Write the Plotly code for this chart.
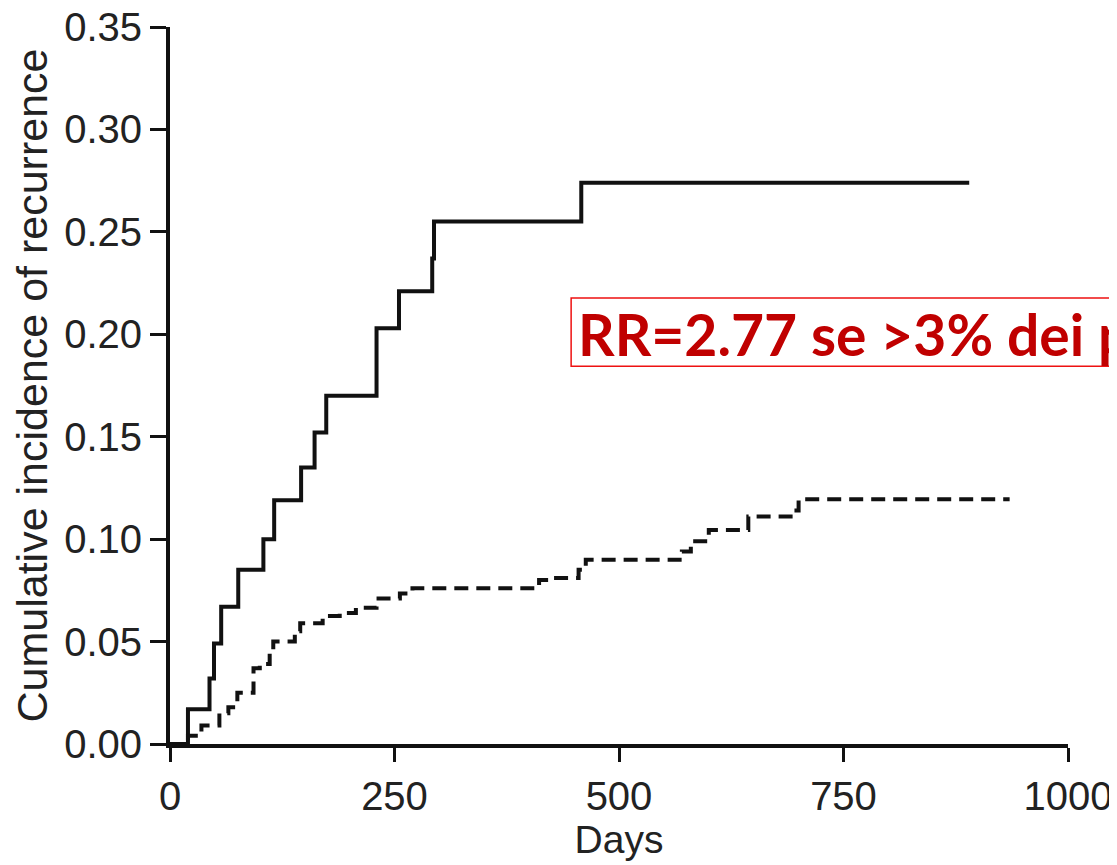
import plotly.graph_objects as go

# Data (days, cumulative incidence)
solid_days = [0, 20, 44, 49, 57, 76, 104, 116, 146, 161, 174, 230, 255, 292, 294, 458, 890]
solid_vals = [0, 0.017, 0.032, 0.049, 0.067, 0.085, 0.100, 0.119, 0.135, 0.152, 0.170,
              0.203, 0.221, 0.237, 0.255, 0.274, 0.274]

dash_days = [0, 20, 35, 55, 65, 75, 93, 100, 111, 115, 139, 145, 170, 189, 207, 230, 256,
             270, 411, 426, 455, 463, 570, 580, 600, 644, 694, 700, 935]
dash_vals = [0, 0.004, 0.009, 0.015, 0.018, 0.025, 0.037, 0.039, 0.045, 0.050, 0.055, 0.059,
             0.0625, 0.064, 0.0665, 0.071, 0.0735, 0.076, 0.080, 0.081, 0.085, 0.090, 0.094,
             0.099, 0.1045, 0.111, 0.114, 0.1195, 0.1195]

x_ticks = [0, 250, 500, 750, 1000]
y_ticks = [0, 0.05, 0.10, 0.15, 0.20, 0.25, 0.30, 0.35]

x_title = "Days"
y_title = "Cumulative incidence of recurrence"
note_text = "RR=2.77 se >3% dei p"

fig = go.Figure()
fig.add_trace(go.Scatter(x=solid_days, y=solid_vals, mode="lines", line_shape="hv",
                         line=dict(color="#111111", width=4), showlegend=False))
fig.add_trace(go.Scatter(x=dash_days, y=dash_vals, mode="lines", line_shape="hv",
                         line=dict(color="#111111", width=4, dash="14px,8px"), showlegend=False))

fam = "Liberation Sans, Arial, sans-serif"
fig.update_layout(
    width=1109, height=857,
    margin=dict(l=162, r=49, t=19, b=121),
    paper_bgcolor="white", plot_bgcolor="white",
    xaxis=dict(range=[0, 1000], tickvals=x_ticks, ticktext=[str(v) for v in x_ticks],
               showline=True, linecolor="#111111", linewidth=4, mirror=False,
               ticks="outside", ticklen=14, tickwidth=3, tickcolor="#111111",
               showgrid=False, zeroline=False, automargin=False, ticklabeloverflow="allow",
               tickfont=dict(family=fam, size=40, color="#222222"),
               title=dict(text=x_title, font=dict(family=fam, size=39, color="#222222"), standoff=6)),
    yaxis=dict(range=[0, 0.35], tickvals=y_ticks, tickformat=".2f",
               showline=True, linecolor="#111111", linewidth=4, mirror=False,
               ticks="outside", ticklen=16, tickwidth=3, tickcolor="#111111",
               showgrid=False, zeroline=False, automargin=False, ticklabeloverflow="allow",
               tickfont=dict(family=fam, size=40, color="#222222"),
               title=dict(text=y_title, font=dict(family=fam, size=43, color="#222222"), standoff=14)),
)

# Red framed note (extends past the right edge, as in the reference)
fig.add_shape(type="rect", xref="paper", yref="paper",
              x0=0.4467, x1=1.08, y0=0.527, y1=0.622,
              line=dict(color="#ee1111", width=1.5), fillcolor="rgba(0,0,0,0)")
fig.add_annotation(xref="paper", yref="paper", x=0.452, y=0.572, xanchor="left", yanchor="middle",
                   text="<b>" + note_text + "</b>", showarrow=False,
                   font=dict(family="Lato, Open Sans, sans-serif", size=57, color="#c00000"))

fig.write_html("out.html")
